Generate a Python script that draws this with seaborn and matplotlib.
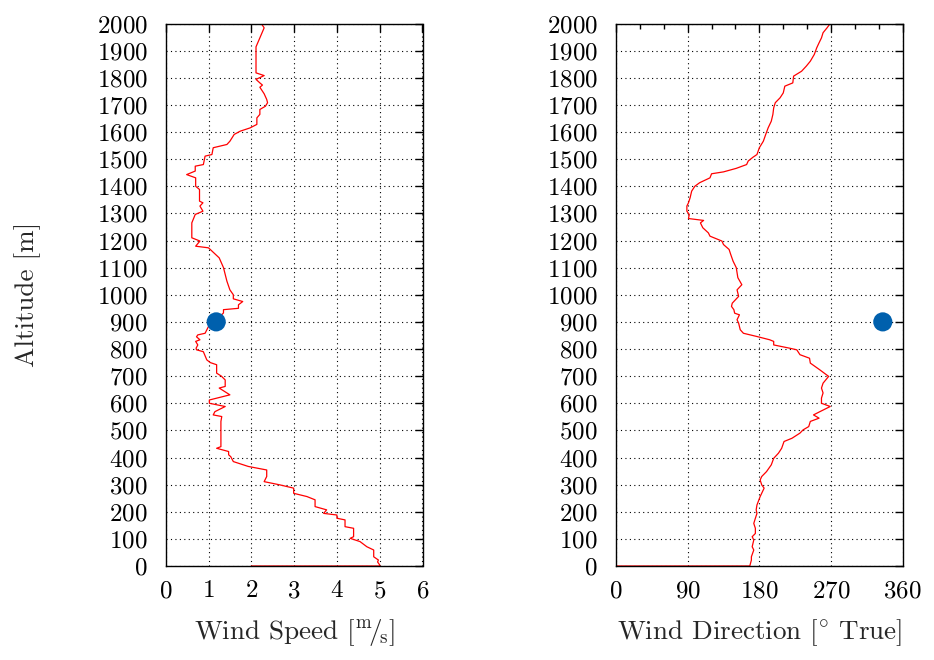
import matplotlib
matplotlib.use("Agg")
import matplotlib.pyplot as plt
import seaborn as sns
import numpy as np
import pandas as pd
from matplotlib.ticker import MultipleLocator

# ---- data -------------------------------------------------------------
speed_alt = [0, 0, 4, 15, 22, 34, 59, 71, 90, 102, 108, 139, 145, 170, 176, 188, 194, 207,
             219, 244, 256, 268, 287, 299, 311, 330, 354, 367, 385, 403, 410, 422, 434,
             440, 533, 551, 557, 569, 588, 600, 612, 631, 656, 662, 686, 700, 711, 742,
             750, 760, 790, 797, 803, 815, 828, 834, 845, 852, 858, 883, 900, 920, 933,
             945, 950, 963, 975, 985, 1000, 1018, 1050, 1100, 1136, 1173, 1179, 1198,
             1210, 1265, 1296, 1308, 1327, 1339, 1345, 1388, 1400, 1431, 1443, 1456,
             1474, 1480, 1511, 1517, 1542, 1554, 1566, 1591, 1603, 1615, 1628, 1652,
             1665, 1683, 1695, 1708, 1720, 1741, 1765, 1773, 1781, 1794, 1808, 1818,
             1914, 1947, 1984, 1996, 2000]
speed = [2.0, 5.0, 5.0, 4.95, 4.97, 4.86, 4.86, 4.7, 4.54, 4.31, 4.39, 4.39, 4.19, 4.19,
         4.0, 4.0, 3.69, 3.76, 3.49, 3.49, 3.3, 2.99, 2.99, 2.67, 2.3, 2.36, 2.36, 1.93,
         1.58, 1.52, 1.47, 1.47, 1.19, 1.29, 1.29, 1.31, 1.11, 1.15, 1.39, 1.02, 1.02,
         1.5, 1.25, 1.39, 1.39, 1.3, 1.19, 1.19, 1.04, 0.96, 0.88, 0.72, 0.71, 0.75,
         0.70, 0.8, 0.72, 0.75, 0.92, 1.0, 1.2, 1.27, 1.35, 1.35, 1.7, 1.7, 1.8, 1.58,
         1.58, 1.5, 1.43, 1.35, 1.25, 1.0, 0.7, 0.8, 0.61, 0.61, 0.69, 0.87, 0.8, 0.87,
         0.79, 0.79, 0.7, 0.7, 0.49, 0.69, 0.69, 0.88, 0.92, 1.08, 1.11, 1.43, 1.5, 1.6,
         1.74, 1.97, 2.13, 2.13, 2.2, 2.2, 2.33, 2.38, 2.36, 2.3, 2.2, 2.26, 2.2, 2.11,
         2.3, 2.11, 2.11, 2.2, 2.3, 2.25, 2.1]

dir_alt = [0, 0, 22, 34, 59, 71, 96, 108, 120, 139, 157, 176, 194, 207, 225, 256, 287,
           299, 317, 330, 348, 373, 397, 416, 434, 459, 471, 490, 502, 514, 533, 545,
           557, 569, 588, 600, 619, 638, 656, 674, 699, 723, 748, 766, 779, 797, 803,
           815, 828, 834, 846, 858, 871, 895, 908, 926, 932, 945, 957, 969, 994, 1018,
           1037, 1063, 1100, 1124, 1149, 1167, 1185, 1198, 1216, 1228, 1247, 1265,
           1274, 1281, 1296, 1308, 1327, 1339, 1357, 1382, 1400, 1413, 1431, 1446,
           1453, 1466, 1480, 1493, 1507, 1517, 1542, 1566, 1591, 1615, 1640, 1665,
           1689, 1708, 1726, 1744, 1769, 1781, 1806, 1824, 1843, 1861, 1886, 1910,
           1929, 1947, 1966, 1984, 1996, 2000]
direction = [0, 168, 170, 170, 173, 171, 173, 171, 175, 175, 173, 175, 177, 176, 177,
             181, 186, 183, 181, 183, 189, 195, 198, 204, 208, 211, 221, 231, 235, 242,
             244, 255, 248, 256, 269, 258, 258, 260, 258, 260, 267, 256, 244, 243, 231,
             227, 218, 198, 198, 193, 177, 160, 156, 154, 152, 155, 149, 148, 145, 146,
             154, 152, 158, 153, 151, 147, 144, 142, 135, 133, 118, 116, 109, 106, 110,
             91, 92, 89, 89, 91, 93, 95, 99, 105, 118, 120, 135, 151, 164, 166, 172, 177,
             180, 185, 188, 191, 195, 197, 198, 200, 206, 210, 212, 222, 223, 233, 239,
             244, 249, 252, 255, 258, 260, 265, 268, 265]

marker_alt = [900]
marker_speed = [1.18]
marker_dir = [335]

speed_ticks = [0, 1, 2, 3, 4, 5, 6]
dir_ticks = [0, 90, 180, 270, 360]
alt_ticks = list(range(0, 2001, 100))

# ---- style ------------------------------------------------------------
sns.set_theme(style="white")
plt.rcParams["font.family"] = ["cmr10", "DejaVu Serif"]
plt.rcParams["mathtext.fontset"] = "cm"
plt.rcParams["axes.unicode_minus"] = False
plt.rcParams["axes.formatter.use_mathtext"] = True

fig = plt.figure(figsize=(9.34, 6.6), dpi=100)
W, H = 934, 660
y0 = 1 - 566 / H
hh = (566 - 23.5) / H
ax1 = fig.add_axes([165.7 / W, y0, (422.5 - 165.7) / W, hh])
ax2 = fig.add_axes([616 / W, y0, (902.7 - 616) / W, hh])

red = "#ff0000"
blue = "#0060ad"

df_s = pd.DataFrame({"alt": speed_alt, "speed": speed})
df_d = pd.DataFrame({"alt": dir_alt, "dir": direction})

sns.lineplot(data=df_s, x="speed", y="alt", sort=False, estimator=None,
             color=red, linewidth=0.9, ax=ax1)
sns.scatterplot(x=marker_speed, y=marker_alt, color=blue, s=190, edgecolor="none",
                ax=ax1, zorder=5)
sns.lineplot(data=df_d, x="dir", y="alt", sort=False, estimator=None,
             color=red, linewidth=0.9, ax=ax2)
sns.scatterplot(x=marker_dir, y=marker_alt, color=blue, s=190, edgecolor="none",
                ax=ax2, zorder=5)

TICK_FS = 18
LABEL_FS = 19.5

for ax in (ax1, ax2):
    ax.set_ylim(0, 2000)
    ax.set_yticks(alt_ticks)
    ax.grid(True, which="major", color="black", linestyle=(0, (1, 3)), linewidth=0.8)
    ax.tick_params(axis="both", which="both", direction="in", top=True, right=True,
                   labelsize=TICK_FS, color="black", labelcolor="black")
    ax.tick_params(which="major", length=6, width=1.0)
    ax.tick_params(which="minor", length=3.5, width=1.0)
    ax.tick_params(axis="y", pad=13)
    ax.tick_params(axis="x", pad=10)
    for sp in ax.spines.values():
        sp.set_color("black")
        sp.set_linewidth(1.0)
    ax.set_ylabel("")
    ax.set_axisbelow(True)

ax1.set_xlim(0, 6)
ax1.set_xticks(speed_ticks)
ax2.set_xlim(0, 360)
ax2.set_xticks(dir_ticks)
ax2.xaxis.set_minor_locator(MultipleLocator(30))

ax1.set_xlabel(r"Wind Speed [$^{\mathrm{m}}\!/\!_{\mathrm{s}}$]", fontsize=LABEL_FS, labelpad=11)
ax2.set_xlabel(r"Wind Direction [$^{\circ}$ True]", fontsize=LABEL_FS, labelpad=11)
ax1.set_ylabel("Altitude [m]", fontsize=LABEL_FS, labelpad=40)

fig.savefig("out.png", dpi=100)
